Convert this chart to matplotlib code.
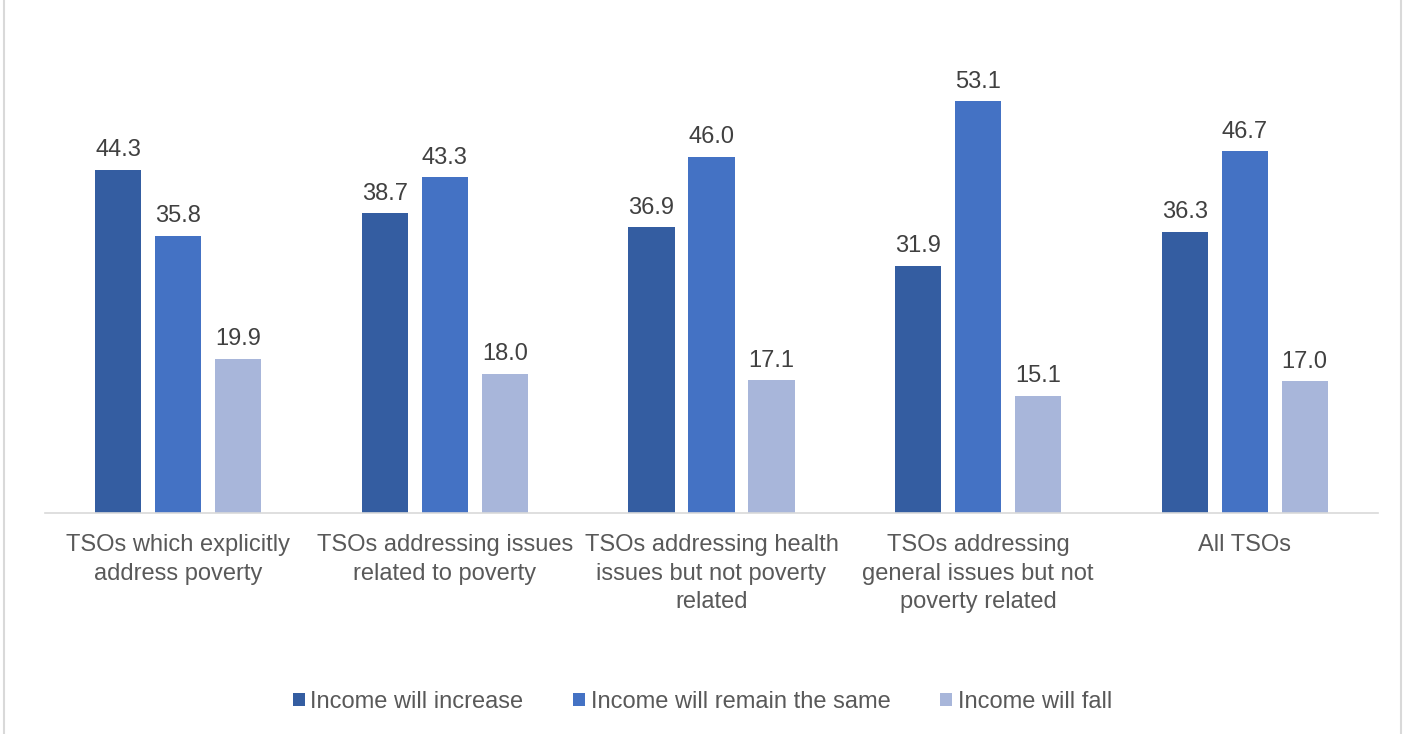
import matplotlib.pyplot as plt
import numpy as np
from matplotlib.patches import Rectangle

plt.rcParams['font.family'] = ['Liberation Sans', 'DejaVu Sans']

categories = ['TSOs which explicitly\naddress poverty',
              'TSOs addressing issues\nrelated to poverty',
              'TSOs addressing health\nissues but not poverty\nrelated',
              'TSOs addressing\ngeneral issues but not\npoverty related',
              'All TSOs']
series_names = ['Income will increase', 'Income will remain the same', 'Income will fall']
increase = [44.3, 38.7, 36.9, 31.9, 36.3]
same = [35.8, 43.3, 46.0, 53.1, 46.7]
fall = [19.9, 18.0, 17.1, 15.1, 17.0]
colors = ['#345DA1', '#4472C4', '#A8B6DA']

fig = plt.figure(figsize=(14.05, 7.34), dpi=100)
W, H = 1405, 734
ax = fig.add_axes([45 / W, (H - 513) / H, (1378 - 45) / W, (513 - 48) / H])

x = np.arange(len(categories))
width = 0.173
offset = 0.225
for i, (vals, name, c) in enumerate(zip([increase, same, fall], series_names, colors)):
    bars = ax.bar(x + (i - 1) * offset, vals, width, color=c, label=name)
    for b, v in zip(bars, vals):
        ax.text(b.get_x() + b.get_width() / 2, v + 1.1, f'{v:.1f}',
                ha='center', va='bottom', fontsize=17, color='#404040')

ax.set_xlim(-0.5, len(categories) - 0.5)
ax.set_ylim(0, 60)
ax.set_yticks([])
ax.set_xticks(x)
ax.set_xticklabels(categories, fontsize=17, color='#595959', linespacing=1.4)
ax.tick_params(axis='x', length=0, pad=15)
for s in ['top', 'right', 'left']:
    ax.spines[s].set_visible(False)
ax.spines['bottom'].set_color('#D9D9D9')
ax.spines['bottom'].set_linewidth(1.2)

leg = fig.legend(loc='center', bbox_to_anchor=(0.5, 1 - 702 / H), ncol=3, frameon=False,
                 fontsize=17, handlelength=0.5, handleheight=0.5, handletextpad=0.25,
                 columnspacing=2.1)
for t in leg.get_texts():
    t.set_color('#595959')

# outer chart border (cropped at top and bottom)
fig.patches.append(Rectangle((4 / W, -0.05), (1401 - 4) / W, 1.1, transform=fig.transFigure,
                             fill=False, edgecolor='#D9D9D9', linewidth=1.5))

fig.savefig('out.png', dpi=100)
